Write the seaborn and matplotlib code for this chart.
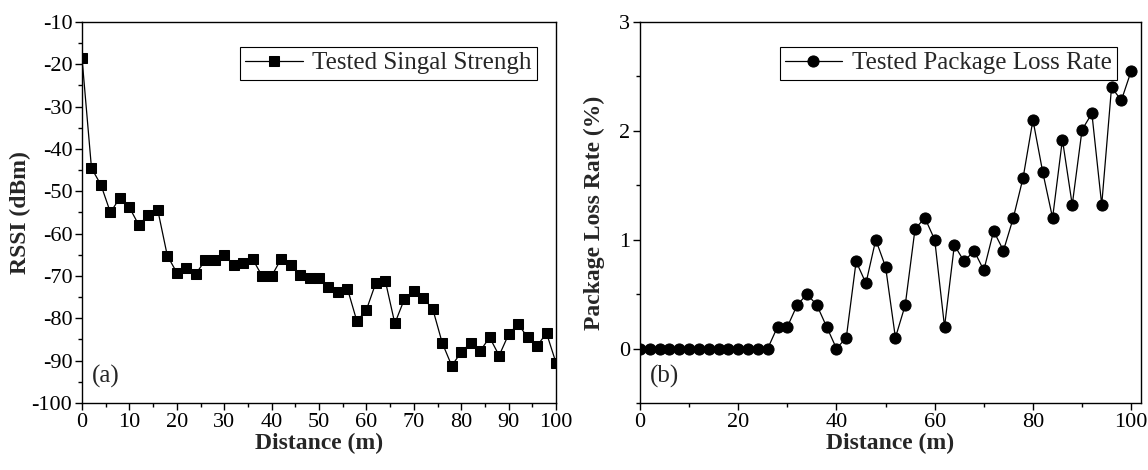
import numpy as np
import pandas as pd
import matplotlib
matplotlib.use("Agg")
import matplotlib.pyplot as plt
from matplotlib.ticker import MultipleLocator
import seaborn as sns

distance = list(range(0, 101, 2))
rssi = [-18.5, -44.5, -48.5, -55, -51.5, -53.8, -58, -55.5, -54.5, -65.2,
        -69.2, -68, -69.5, -66.3, -66.3, -65, -67.5, -67, -66, -70,
        -70, -66, -67.5, -69.7, -70.4, -70.4, -72.5, -73.8, -73, -80.7,
        -78, -71.6, -71.2, -81.2, -75.5, -73.5, -75.2, -77.8, -85.8, -91.2,
        -88, -85.8, -87.7, -84.5, -88.8, -83.8, -81.3, -84.5, -86.5, -83.5,
        -90.5]
loss = [0]*14 + [0.2, 0.2, 0.4, 0.5, 0.4, 0.2, 0.0, 0.1, 0.8, 0.6,
                 1.0, 0.75, 0.1, 0.4, 1.1, 1.2, 1.0, 0.2, 0.95, 0.8,
                 0.9, 0.72, 1.08, 0.9, 1.2, 1.57, 2.1, 1.62, 1.2, 1.92,
                 1.32, 2.01, 2.16, 1.32, 2.4, 2.28, 2.55]

sns.set_theme(style="white")
plt.rcParams['font.family'] = ['Liberation Serif', 'DejaVu Serif']
plt.rcParams['axes.unicode_minus'] = False

fig = plt.figure(figsize=(11.48, 4.70), dpi=100)
ax1 = fig.add_axes([82/1148, 1-403/470, (556-82)/1148, (403-22)/470])
ax2 = fig.add_axes([640/1148, 1-403/470, (1141-640)/1148, (403-22)/470])

df1 = pd.DataFrame({"Distance": distance, "RSSI": rssi})
df2 = pd.DataFrame({"Distance": distance, "Loss": loss})

sns.lineplot(data=df1, x="Distance", y="RSSI", ax=ax1, color="black",
             linewidth=0.9, marker="s", markersize=7.5, markeredgecolor="black",
             label="Tested Singal Strengh")
sns.lineplot(data=df2, x="Distance", y="Loss", ax=ax2, color="black",
             linewidth=0.9, marker="o", markersize=8, markeredgecolor="black",
             label="Tested Package Loss Rate")

tick_fs = 16
lab_fs = 17
leg_fs = 18
leg_anchor = {ax1: ((537-82)/474, (403-47)/381), ax2: ((1117-640)/501, (403-47)/381)}
for ax in (ax1, ax2):
    for s in ax.spines.values():
        s.set_color("black")
        s.set_linewidth(1.0)
    ax.tick_params(which="both", direction="out", bottom=True, left=True,
                   top=False, right=False, colors="black", labelsize=tick_fs, pad=2)
    ax.tick_params(which="major", length=5, width=1)
    ax.tick_params(which="minor", length=3, width=1)
    ax.set_xlabel("Distance (m)", fontsize=lab_fs, fontweight="bold", labelpad=1)
    leg = ax.legend(loc="upper right", bbox_to_anchor=leg_anchor[ax],
                    fontsize=leg_fs, frameon=True, fancybox=False,
                    edgecolor="black", framealpha=1, handlelength=2.3,
                    borderpad=0.2, handletextpad=0.4, borderaxespad=0.0)
    leg.get_frame().set_linewidth(0.8)

ax1.set_xlim(0, 100)
ax1.set_ylim(-100, -10)
ax1.xaxis.set_major_locator(MultipleLocator(10))
ax1.xaxis.set_minor_locator(MultipleLocator(5))
ax1.yaxis.set_major_locator(MultipleLocator(10))
ax1.yaxis.set_minor_locator(MultipleLocator(5))
ax1.set_ylabel("RSSI (dBm)", fontsize=lab_fs, fontweight="bold", labelpad=0)
ax1.text(0.02, 0.04, "(a)", transform=ax1.transAxes, fontsize=leg_fs, ha="left", va="bottom")

ax2.set_xlim(0, 102)
ax2.set_ylim(-0.5, 3)
ax2.xaxis.set_major_locator(MultipleLocator(20))
ax2.xaxis.set_minor_locator(MultipleLocator(10))
ax2.yaxis.set_major_locator(MultipleLocator(1))
ax2.yaxis.set_minor_locator(MultipleLocator(0.5))
ax2.set_ylabel("Package Loss Rate (%)", fontsize=lab_fs, fontweight="bold", labelpad=10)
ax2.text(0.02, 0.04, "(b)", transform=ax2.transAxes, fontsize=leg_fs, ha="left", va="bottom")

fig.savefig("out.png", dpi=100)
